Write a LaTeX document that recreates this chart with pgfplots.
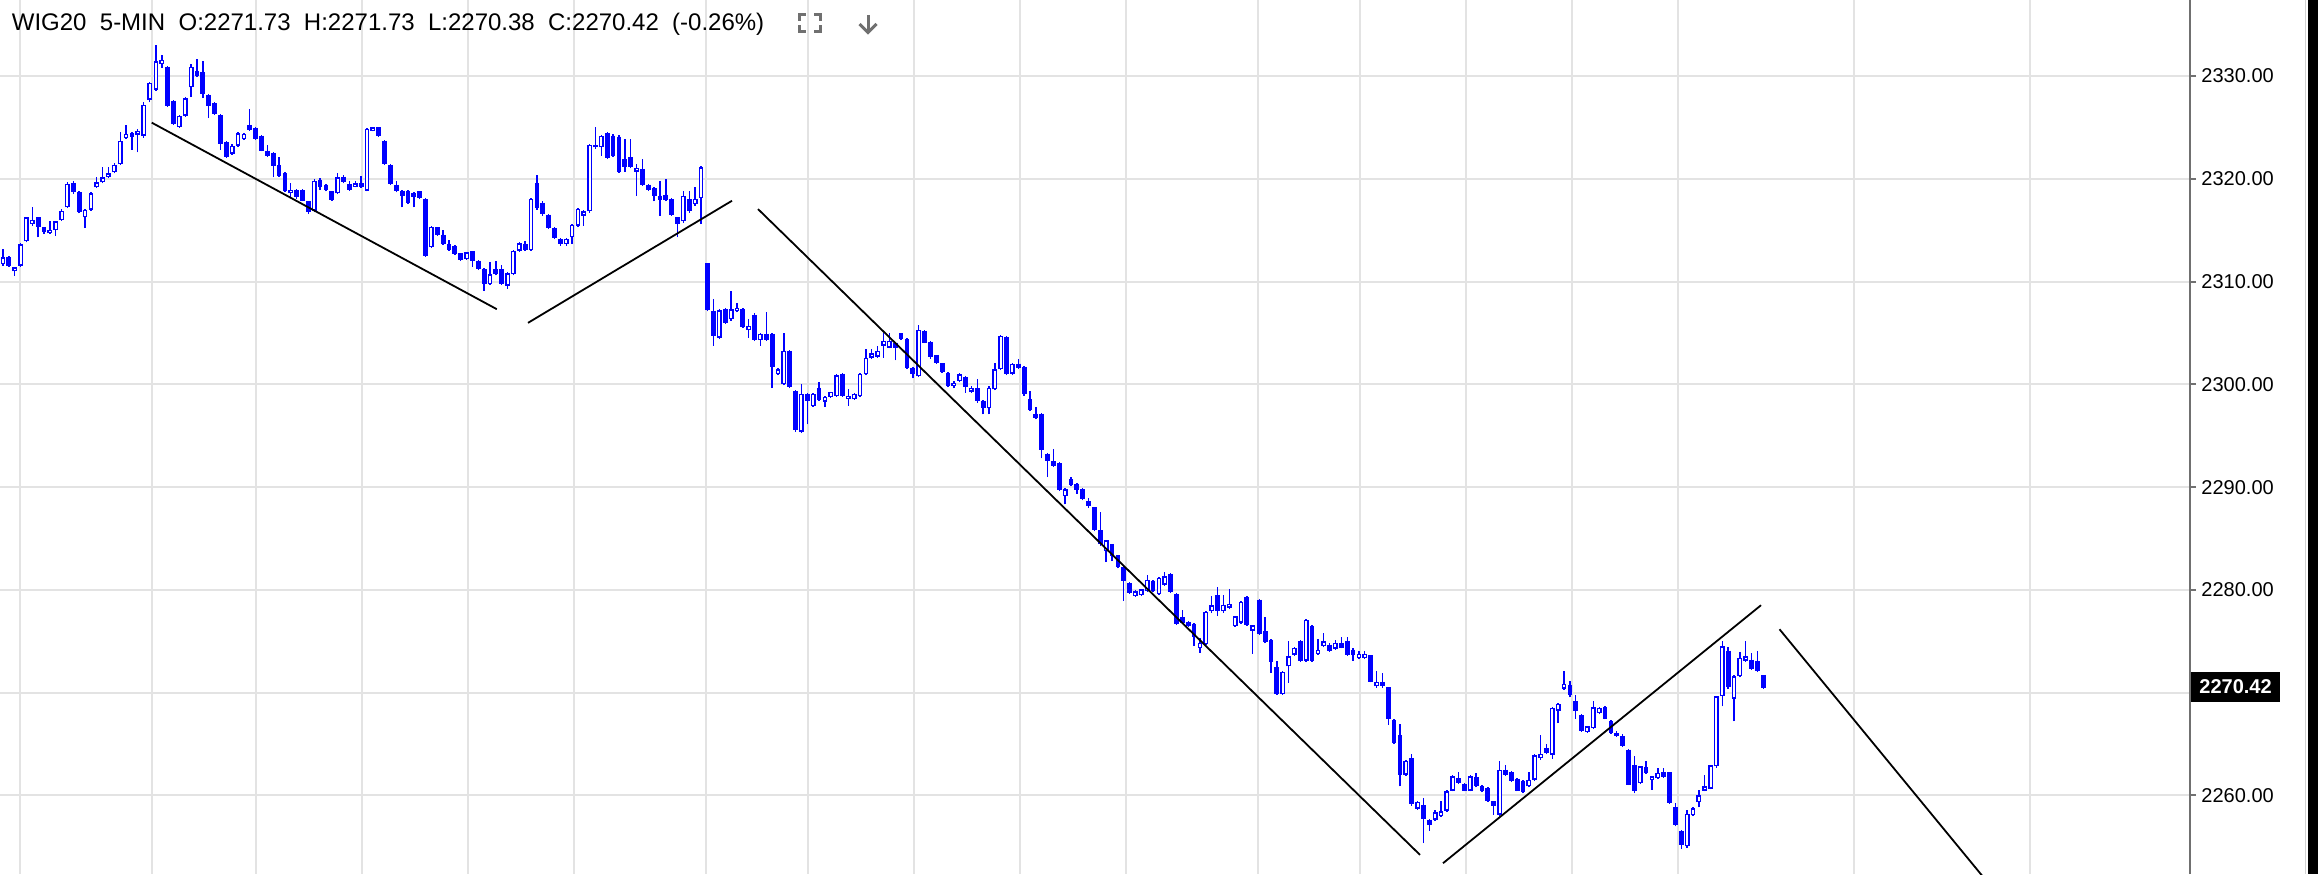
\documentclass[border=0pt]{standalone}
\usepackage{fontspec}
\setmainfont{Liberation Sans}
\usepackage{pgfplots}
\pgfplotsset{compat=1.18}
\usepackage{pgfplotstable}
\definecolor{candle}{RGB}{0,0,255}
\definecolor{gridl}{RGB}{227,227,227}
\definecolor{gridd}{RGB}{189,189,189}
\definecolor{axisg}{RGB}{112,112,112}
\definecolor{icon}{RGB}{112,112,112}

% day 1 (end of session), x = 3 + 5.86 i
\pgfplotstableread{
i o h l c
0 2311.69 2313.15 2311.53 2312.34
1 2312.34 2312.50 2311.43 2311.53
2 2310.98 2311.43 2310.56 2311.37
3 2311.53 2313.77 2311.43 2313.64
4 2313.90 2316.30 2313.80 2316.24
5 2315.59 2317.28 2315.43 2315.98
6 2316.24 2316.30 2314.29 2315.27
7 2315.27 2315.33 2314.62 2314.78
8 2314.68 2315.85 2314.62 2315.04
9 2315.00 2315.91 2314.45 2315.85
10 2315.98 2317.05 2315.91 2316.89
11 2317.21 2319.65 2317.15 2319.49
12 2319.55 2319.74 2318.51 2318.67
13 2318.67 2318.77 2316.63 2316.72
14 2316.24 2317.05 2315.20 2316.99
15 2316.99 2318.67 2316.89 2318.58
16 2319.16 2320.13 2319.10 2319.65
17 2319.65 2321.11 2319.55 2320.13
18 2320.13 2321.11 2320.07 2320.52
19 2320.62 2321.50 2320.52 2321.37
20 2321.43 2324.52 2321.37 2323.71
21 2323.97 2325.26 2323.90 2324.36
22 2324.42 2324.52 2322.80 2324.03
23 2324.29 2324.81 2322.57 2324.68
24 2324.19 2327.44 2323.97 2327.21
25 2327.70 2329.38 2327.44 2329.32
}\dayA

% day 2, x = 156 + 5.86 i
\pgfplotstableread{
i o h l c
0 2328.67 2333.06 2328.57 2331.43
1 2331.17 2332.08 2330.78 2331.56
2 2330.91 2331.01 2327.01 2327.11
3 2327.60 2327.67 2325.26 2325.33
4 2325.00 2326.24 2324.94 2326.14
5 2326.14 2327.93 2326.04 2327.83
6 2328.90 2331.17 2327.93 2330.91
7 2330.46 2331.66 2329.88 2330.04
8 2330.36 2331.43 2327.86 2328.25
9 2328.15 2328.25 2325.91 2327.11
10 2327.37 2327.44 2326.24 2326.30
11 2326.20 2326.30 2322.80 2323.38
12 2323.54 2323.64 2322.02 2322.08
13 2322.43 2323.38 2322.34 2323.22
14 2323.22 2324.52 2323.12 2324.42
15 2323.87 2324.49 2323.77 2324.36
16 2325.23 2326.79 2324.68 2324.74
17 2324.94 2325.07 2323.77 2323.87
18 2324.19 2324.29 2322.66 2322.73
19 2322.73 2323.28 2322.15 2322.24
20 2322.47 2322.57 2320.13 2321.27
21 2321.34 2322.08 2320.20 2320.30
22 2320.52 2320.62 2318.74 2318.84
23 2318.58 2319.55 2318.19 2318.90
24 2318.90 2319.00 2318.02 2318.25
25 2318.90 2319.00 2317.80 2317.86
26 2317.80 2317.86 2316.56 2316.72
27 2316.89 2319.97 2316.72 2319.81
28 2319.91 2320.07 2318.90 2319.16
29 2319.42 2319.49 2318.77 2318.90
30 2318.77 2318.84 2317.86 2317.93
31 2318.58 2320.52 2318.51 2320.13
32 2320.20 2320.39 2319.55 2319.65
33 2319.49 2319.75 2318.84 2318.90
34 2319.23 2319.75 2319.16 2319.55
35 2319.58 2320.30 2319.10 2319.16
36 2318.84 2324.94 2318.77 2324.84
37 2324.68 2325.07 2324.61 2325.00
38 2325.00 2325.07 2324.10 2324.19
39 2323.71 2323.77 2321.37 2321.43
40 2321.34 2321.43 2319.42 2319.49
41 2319.42 2319.75 2318.67 2318.84
42 2318.84 2318.90 2317.21 2318.35
43 2318.84 2318.90 2317.54 2317.60
44 2318.61 2318.71 2317.21 2318.19
45 2318.77 2318.84 2318.02 2318.09
46 2318.02 2318.09 2312.40 2312.50
47 2313.32 2315.43 2313.25 2315.33
48 2315.27 2315.33 2314.45 2314.55
49 2314.55 2315.00 2313.58 2313.64
50 2313.64 2314.00 2313.00 2313.10
51 2313.48 2313.60 2312.60 2312.67
52 2312.73 2312.80 2312.00 2312.12
53 2312.18 2312.90 2312.10 2312.83
54 2312.93 2313.00 2311.44 2312.02
55 2312.02 2312.10 2311.10 2311.21
56 2311.21 2311.30 2309.10 2309.75
57 2309.75 2311.86 2309.70 2310.70
58 2311.21 2312.02 2310.60 2310.72
59 2311.21 2311.63 2309.70 2309.75
60 2309.58 2310.90 2309.30 2310.79
61 2310.72 2313.10 2310.60 2312.99
62 2312.99 2313.80 2312.90 2313.71
63 2313.64 2313.97 2313.00 2313.06
64 2313.06 2318.10 2313.00 2318.03
65 2319.55 2320.40 2317.00 2317.15
66 2317.67 2317.80 2316.40 2316.56
67 2316.50 2316.60 2315.10 2315.20
68 2315.20 2315.30 2314.10 2314.20
69 2314.13 2314.20 2313.50 2313.64
70 2313.64 2314.20 2313.48 2314.13
71 2314.29 2315.60 2313.64 2315.53
72 2315.43 2317.20 2315.30 2317.05
73 2316.40 2317.00 2315.43 2316.82
74 2316.82 2323.40 2316.70 2323.29
75 2323.06 2325.07 2322.90 2323.29
76 2323.06 2324.30 2322.25 2324.19
77 2324.42 2324.50 2321.90 2321.99
78 2324.19 2324.40 2322.10 2322.25
79 2324.10 2324.30 2320.60 2320.69
80 2321.92 2323.87 2320.69 2321.11
81 2322.08 2323.87 2321.00 2321.11
82 2320.69 2321.44 2318.35 2321.05
83 2320.95 2321.92 2319.30 2319.42
84 2319.42 2319.50 2318.80 2318.90
85 2319.10 2319.20 2317.80 2318.35
86 2318.35 2319.81 2316.40 2317.93
87 2318.45 2319.97 2317.80 2317.93
88 2318.03 2318.10 2316.40 2316.50
89 2316.24 2316.30 2314.29 2315.59
90 2315.85 2318.84 2315.70 2318.35
91 2318.03 2318.84 2316.70 2316.89
92 2317.54 2319.16 2317.38 2318.03
93 2318.12 2321.20 2315.59 2321.11
}\dayB

% day 3, x = 707.7 + 5.86 i
\pgfplotstableread{
i o h l c
0 2311.79 2311.85 2307.10 2307.21
1 2307.15 2308.29 2303.74 2304.71
2 2304.55 2307.30 2304.40 2307.21
3 2307.31 2307.40 2305.90 2306.01
4 2306.34 2309.10 2306.20 2307.31
5 2307.09 2307.90 2307.00 2307.47
6 2307.31 2307.40 2305.50 2305.59
7 2305.27 2306.34 2304.55 2305.69
8 2306.76 2306.90 2304.20 2304.29
9 2304.29 2305.00 2303.74 2304.94
10 2304.94 2306.99 2304.20 2304.29
11 2304.94 2305.00 2299.62 2301.69
12 2300.98 2301.60 2300.90 2301.47
13 2300.01 2305.04 2299.90 2303.25
14 2303.25 2303.30 2299.60 2299.75
15 2299.36 2299.40 2295.40 2295.53
16 2295.40 2300.00 2295.30 2299.10
17 2299.10 2299.20 2296.11 2298.38
18 2297.90 2299.20 2297.80 2299.10
19 2299.68 2300.27 2298.40 2298.45
20 2298.32 2298.90 2297.80 2298.77
21 2298.77 2299.30 2298.70 2299.26
22 2298.87 2301.00 2298.80 2300.88
23 2301.05 2301.10 2298.80 2298.87
24 2298.55 2299.52 2297.90 2298.87
25 2298.55 2299.20 2298.50 2299.10
26 2298.87 2301.10 2298.80 2301.05
27 2300.98 2303.42 2300.90 2302.61
28 2302.61 2303.42 2302.50 2303.00
29 2302.67 2303.74 2302.60 2303.25
30 2303.74 2304.97 2302.60 2304.22
31 2303.57 2304.97 2303.50 2304.22
32 2304.06 2304.10 2302.34 2303.57
33 2304.97 2305.00 2304.30 2304.39
34 2304.39 2304.50 2301.50 2301.63
35 2301.63 2301.70 2300.59 2300.98
36 2300.81 2305.78 2300.70 2305.30
37 2305.20 2305.30 2304.00 2304.06
38 2304.16 2304.20 2302.50 2302.67
39 2302.86 2302.90 2302.00 2302.11
40 2302.05 2302.10 2301.10 2301.20
41 2301.14 2301.20 2299.70 2299.84
42 2299.84 2300.30 2299.61 2300.17
43 2300.33 2301.14 2300.20 2300.98
44 2300.72 2300.80 2299.19 2299.74
45 2299.29 2299.80 2299.20 2299.68
46 2299.61 2300.49 2298.22 2298.38
47 2298.38 2298.50 2297.08 2297.67
48 2297.67 2299.80 2297.08 2299.68
49 2299.52 2302.11 2299.40 2301.46
50 2301.46 2304.80 2301.40 2304.71
51 2304.61 2304.70 2300.90 2300.98
52 2301.04 2302.10 2300.90 2302.02
53 2302.02 2302.44 2301.50 2301.63
54 2301.69 2301.80 2298.90 2299.03
55 2298.54 2299.35 2297.40 2297.47
56 2297.15 2297.80 2296.60 2296.69
57 2297.15 2297.20 2292.80 2293.57
58 2293.25 2293.30 2290.98 2292.54
59 2292.54 2293.67 2292.00 2292.05
60 2292.31 2292.40 2289.60 2289.68
61 2289.13 2289.90 2288.32 2289.78
62 2290.75 2290.98 2290.10 2290.20
63 2290.33 2290.40 2289.35 2289.68
64 2289.78 2289.94 2288.70 2288.87
65 2288.64 2288.96 2288.00 2288.15
66 2288.05 2288.10 2285.70 2285.78
67 2285.78 2287.60 2284.30 2284.42
68 2283.77 2284.90 2282.70 2284.81
69 2284.48 2284.50 2282.80 2283.28
70 2283.38 2283.40 2282.10 2282.21
71 2282.21 2282.30 2278.96 2280.91
72 2280.69 2280.80 2279.60 2279.71
73 2279.39 2280.00 2279.30 2279.87
74 2279.48 2280.10 2279.40 2280.04
75 2279.87 2281.43 2279.80 2281.01
76 2280.91 2281.00 2279.80 2279.87
77 2279.61 2281.30 2279.50 2281.17
78 2280.52 2281.76 2280.40 2281.33
79 2281.50 2281.60 2279.70 2279.81
80 2279.61 2279.70 2276.60 2276.69
81 2277.34 2278.09 2276.70 2276.79
82 2276.89 2277.00 2276.40 2276.47
83 2276.69 2276.80 2274.52 2275.39
84 2274.35 2275.33 2273.87 2274.84
85 2274.74 2277.90 2274.60 2277.86
86 2277.92 2279.39 2277.80 2278.51
87 2279.48 2280.26 2277.44 2277.92
88 2277.92 2279.48 2277.80 2278.57
89 2278.25 2280.04 2278.10 2278.64
90 2276.47 2277.50 2276.40 2277.44
91 2276.79 2278.90 2276.70 2278.83
92 2279.29 2279.40 2276.50 2276.56
93 2276.04 2276.60 2273.77 2276.56
}\dayC

% day 4, x = 1259.3 + 5.86 i
\pgfplotstableread{
i o h l c
0 2279.06 2279.10 2275.60 2275.72
1 2275.98 2277.34 2274.80 2274.94
2 2275.17 2275.20 2271.92 2272.96
3 2272.47 2273.05 2269.80 2269.87
4 2269.87 2272.10 2269.80 2272.02
5 2272.57 2275.00 2270.94 2273.54
6 2273.70 2274.40 2273.60 2274.35
7 2275.00 2275.10 2273.00 2273.12
8 2273.12 2277.20 2273.00 2277.11
9 2276.47 2276.60 2273.00 2273.12
10 2273.77 2275.26 2273.70 2274.19
11 2274.52 2275.82 2274.40 2275.00
12 2274.68 2274.80 2274.00 2274.10
13 2274.29 2275.17 2274.20 2274.85
14 2274.85 2275.40 2274.30 2274.36
15 2275.07 2275.40 2273.60 2273.71
16 2274.20 2274.30 2273.12 2273.71
17 2273.38 2274.03 2273.30 2273.77
18 2273.38 2274.03 2273.30 2273.77
19 2273.64 2273.70 2271.00 2271.05
20 2270.62 2272.09 2270.50 2271.05
21 2271.05 2271.92 2270.50 2270.62
22 2270.53 2270.60 2266.89 2267.48
23 2267.38 2267.40 2265.00 2265.11
24 2265.85 2266.96 2260.88 2262.02
25 2262.02 2263.50 2261.90 2263.38
26 2263.64 2264.03 2259.00 2259.16
27 2258.71 2259.50 2258.60 2259.36
28 2259.03 2259.75 2255.37 2257.74
29 2257.64 2257.70 2256.57 2257.15
30 2257.64 2258.61 2257.50 2258.38
31 2257.96 2259.42 2257.90 2258.45
32 2258.51 2260.50 2258.40 2260.40
33 2260.46 2262.00 2260.40 2261.86
34 2261.70 2262.28 2261.10 2261.21
35 2261.11 2261.20 2260.40 2260.46
36 2260.46 2262.00 2260.40 2261.86
37 2261.76 2262.18 2260.80 2260.88
38 2260.88 2261.00 2260.30 2260.40
39 2260.72 2260.80 2259.40 2259.49
40 2259.42 2259.50 2258.12 2258.94
41 2258.12 2263.32 2258.00 2262.51
42 2262.51 2263.00 2261.90 2262.02
43 2262.28 2262.40 2261.30 2261.37
44 2261.63 2261.70 2260.40 2260.46
45 2261.44 2261.50 2260.20 2260.33
46 2260.88 2262.28 2260.80 2261.53
47 2261.53 2264.00 2261.40 2263.90
48 2263.64 2265.85 2263.50 2264.03
49 2264.62 2265.01 2264.00 2264.13
50 2263.97 2268.60 2263.58 2268.51
51 2268.25 2269.00 2267.05 2268.90
52 2270.40 2272.09 2270.30 2270.85
53 2270.72 2271.11 2269.55 2269.81
54 2269.16 2269.75 2267.48 2268.25
55 2267.80 2267.90 2266.20 2266.31
56 2266.18 2266.80 2266.10 2266.73
57 2266.57 2269.16 2266.50 2268.58
58 2268.03 2268.60 2267.90 2268.51
59 2268.58 2268.70 2267.40 2267.48
60 2267.22 2267.30 2266.00 2266.08
61 2266.08 2266.31 2265.70 2265.75
62 2265.75 2265.98 2264.70 2264.78
63 2264.46 2264.50 2261.00 2261.05
64 2262.93 2263.81 2260.20 2260.46
65 2261.21 2262.90 2261.10 2262.83
66 2262.74 2263.32 2262.10 2262.18
67 2261.53 2261.90 2260.56 2261.86
68 2261.70 2262.67 2261.60 2262.18
69 2262.28 2262.67 2261.70 2261.76
70 2262.28 2262.30 2259.20 2259.26
71 2258.84 2259.26 2257.00 2257.15
72 2256.50 2256.60 2254.81 2255.14
73 2255.04 2258.61 2254.90 2258.19
74 2258.06 2258.90 2258.00 2258.77
75 2259.36 2260.56 2258.84 2260.01
76 2260.46 2261.96 2260.40 2260.88
77 2260.66 2263.00 2260.60 2262.93
78 2262.83 2269.70 2262.70 2269.65
79 2269.65 2275.01 2268.68 2274.52
80 2274.10 2274.42 2270.40 2270.53
81 2269.42 2271.70 2267.22 2271.60
82 2271.60 2273.97 2271.50 2273.38
83 2273.12 2275.01 2273.00 2273.55
84 2273.22 2273.87 2272.20 2272.35
85 2273.06 2274.03 2272.00 2272.15
86 2271.73 2271.73 2270.38 2270.42
}\dayD

\newcommand{\candles}[2]{%
  \addplot[candle, line width=0.7pt,
    quiver={u=0, v=\thisrow{h}-\thisrow{l},
      every arrow/.append style={candle, line width=0.7pt}}]
    table[x expr={#2+5.86*\thisrow{i}}, y=l] {#1};
  \addplot[candle, line width=2.4pt,
    quiver={u=0, v=\thisrow{c}-\thisrow{o},
      every arrow/.append style={candle, line width=2.4pt}}]
    table[x expr={#2+5.86*\thisrow{i}}, y=o] {#1};
  \addplot[white, line width=1.0pt,
    restrict expr to domain={\thisrow{c}-\thisrow{o}}{0.28:100},
    quiver={u=0, v=\thisrow{c}-\thisrow{o},
      every arrow/.append style={white, line width=1.0pt, shorten >=0.7pt, shorten <=0.7pt}}]
    table[x expr={#2+5.86*\thisrow{i}}, y=o] {#1};
}

\begin{document}
\begin{tikzpicture}
\useasboundingbox (0,0) rectangle (1159pt,437pt);
\begin{axis}[
  at={(0,0)}, anchor=south west,
  scale only axis, width=1095pt, height=437pt,
  xmin=0, xmax=2190, ymin=2252.36, ymax=2337.39,
  enlargelimits=false,
  axis x line=bottom, axis y line=right,
  x axis line style={draw=none},
  y axis line style={draw=axisg, line width=1.2pt, -},
  xtick={20,256,362,468,574,808,914,1020,1126,1360,1466,1572,1678,1854,2030},
  xticklabels={},
  extra x ticks={152,706,1258},
  extra x tick labels={},
  extra x tick style={grid style={draw=gridd, line width=1pt}, major tick length=0pt},
  x tick style={draw=none},
  xmajorgrids, ymajorgrids,
  major grid style={draw=gridl, line width=1pt},
  ytick={2260,2270,2280,2290,2300,2310,2320,2330},
  yticklabels={2260.00,,2280.00,2290.00,2300.00,2310.00,2320.00,2330.00},
  y tick style={draw=axisg, line width=1pt},
  tick align=outside,
  major tick length=3pt,
  yticklabel style={font=\fontsize{10}{12}\selectfont, xshift=-0.8pt},
]
\candles{\dayA}{3}
\candles{\dayB}{156}
\candles{\dayC}{707.7}
\candles{\dayD}{1259.3}
% trend lines
\addplot[black, line width=0.9pt] coordinates {(151.7,2325.46) (496.8,2307.31)};
\addplot[black, line width=0.9pt] coordinates {(528,2305.98) (732,2317.86)};
\addplot[black, line width=0.9pt] coordinates {(758,2317.05) (1420,2254.22)};
\addplot[black, line width=0.9pt] coordinates {(1443,2253.41) (1761,2278.51)};
\addplot[black, line width=0.9pt] coordinates {(1779.5,2276.17) (1982,2252.21)};
\end{axis}
\begin{scope}[shift={(0pt,437pt)}, x=0.5pt, y=-0.5pt]
  \node[anchor=base west, inner sep=0pt, font=\fontsize{12}{14}\selectfont] at (11.5,30.7)
    {WIG20~~5-MIN~~O:2271.73~~H:2271.73~~L:2270.38~~C:2270.42~~(-0.26\%)};
  % full-screen icon
  \draw[icon, line width=1.5pt] (799.5,21) -- (799.5,14.5) -- (806,14.5);
  \draw[icon, line width=1.5pt] (814,14.5) -- (820.5,14.5) -- (820.5,21);
  \draw[icon, line width=1.5pt] (799.5,25) -- (799.5,31.5) -- (806,31.5);
  \draw[icon, line width=1.5pt] (814,31.5) -- (820.5,31.5) -- (820.5,25);
  % download arrow
  \draw[icon, line width=1.5pt] (868,15) -- (868,32);
  \draw[icon, line width=1.5pt] (859.5,24) -- (868,32.5) -- (876.5,24);
  % last price label
  \node[fill=black, text=white, inner xsep=4pt, inner ysep=0pt, minimum height=15pt,
        anchor=west, font=\fontsize{10}{12}\selectfont\bfseries] at (2191,687) {2270.42};
  % window edge on the right
  \draw[gray!35, line width=0.75pt] (2305.5,0) -- (2305.5,874);
  \fill[black] (2308,0) rectangle (2318,874);
\end{scope}
\end{tikzpicture}
\end{document}
